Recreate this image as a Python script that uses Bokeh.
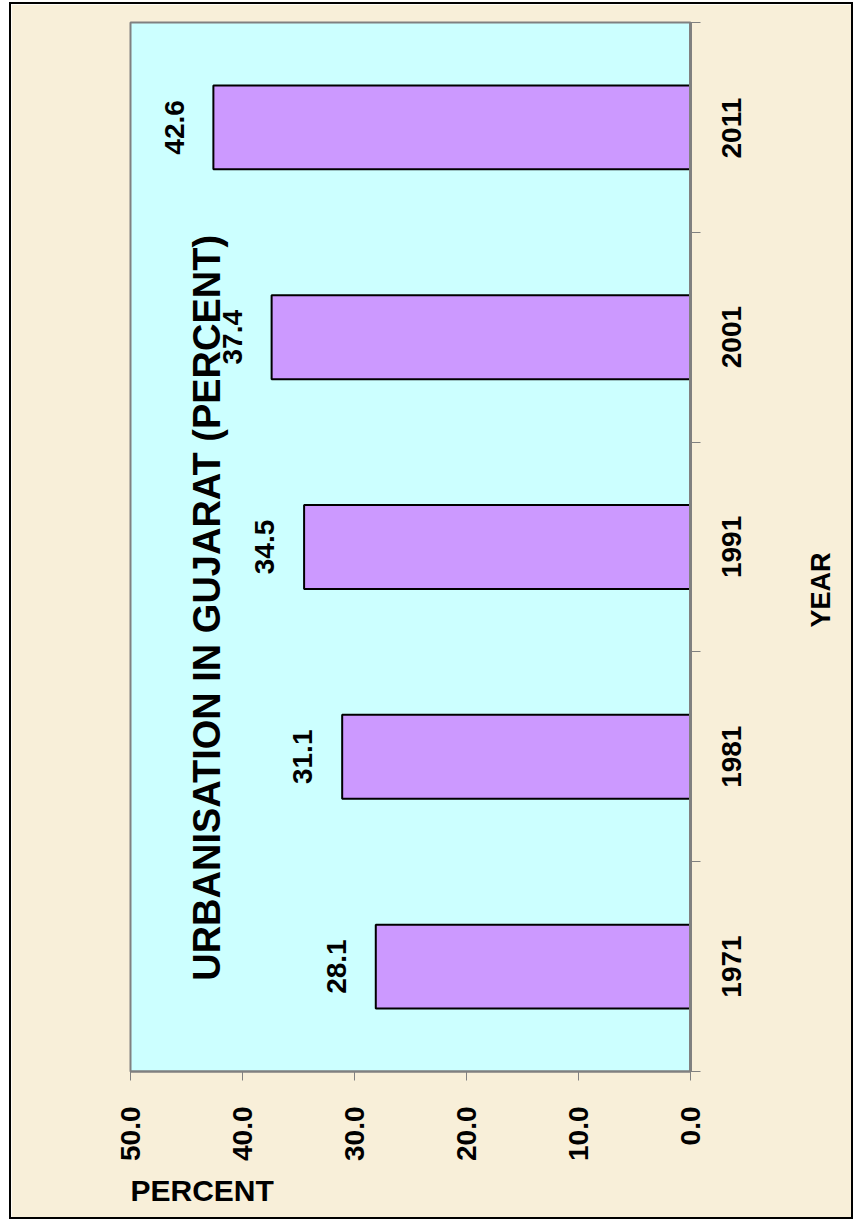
import math
from bokeh.plotting import figure
from bokeh.models import (Range1d, FixedTicker, PrintfTickFormatter, ColumnDataSource,
                          Label, Title, LinearAxis)
from bokeh.core.properties import value
from bokeh.embed import file_html
from bokeh.resources import INLINE

years = ["1971", "1981", "1991", "2001", "2011"]
values = [28.1, 31.1, 34.5, 37.4, 42.6]
value_ticks = [0, 10, 20, 30, 40, 50]
title_text = "URBANISATION IN GUJARAT (PERCENT)"
x_title = "PERCENT"
y_title = "YEAR"

idx = list(range(1, len(years) + 1))
FONT = "Liberation Sans"
# rotated right-axis labels start at their tick; shift so they are centred on the bar
label_shift = 0.148
year_title_pos = 2.616

p = figure(width=844, height=1217, output_backend="svg", toolbar_location=None,
           x_range=Range1d(50, 0), y_range=Range1d(0.5, len(years) + 0.5),
           y_axis_location="right", x_axis_location="below",
           min_border_left=119, min_border_right=165, min_border_top=18, min_border_bottom=150)
p.styles = {"border": "2px solid black", "margin-left": "9px", "margin-top": "2px"}
p.background_fill_color = "#CCFFFF"
p.border_fill_color = "#F8EFD9"
p.outline_line_color = "#808080"
p.outline_line_width = 2
p.xgrid.visible = False
p.ygrid.visible = False

src = ColumnDataSource(dict(y=idx, v=values, lab=[f"{v:.1f}" for v in values],
                            lx=[v + 3.5 for v in values]))
p.hbar(y="y", left=0, right="v", height=0.4, source=src,
       fill_color="#CC99FF", line_color="black", line_width=2)
p.text(x="lx", y="y", text="lab", source=src, angle=math.pi / 2,
       text_align="center", text_baseline="middle",
       text_font=value(FONT), text_font_style="bold", text_font_size="28px", text_color="black")

xa = p.xaxis[0]
xa.ticker = FixedTicker(ticks=value_ticks)
xa.formatter = PrintfTickFormatter(format="%.1f")
xa.major_label_orientation = math.pi / 2
xa.major_label_text_font = FONT
xa.major_label_text_font_style = "bold"
xa.major_label_text_font_size = "28px"
xa.major_label_text_color = "black"
xa.major_tick_out = 9
xa.major_tick_in = 0
xa.minor_tick_out = 0
xa.minor_tick_in = 0
xa.major_tick_line_color = "#808080"
xa.axis_line_color = "#808080"
xa.axis_line_width = 2
xa.major_label_standoff = 26

ya = p.yaxis[0]
label_ticks = [i - label_shift for i in idx]
ya.ticker = FixedTicker(ticks=label_ticks, minor_ticks=[i - 0.5 for i in idx] + [idx[-1] + 0.5])
ya.major_label_overrides = {t: y for t, y in zip(label_ticks, years)}
ya.major_label_orientation = math.pi / 2
ya.major_label_text_font = FONT
ya.major_label_text_font_style = "bold"
ya.major_label_text_font_size = "28px"
ya.major_label_text_color = "black"
ya.major_tick_out = 0
ya.major_tick_in = 0
ya.minor_tick_out = 10
ya.minor_tick_in = 0
ya.minor_tick_line_color = "#808080"
ya.axis_line_color = "#808080"
ya.axis_line_width = 3
ya.major_label_standoff = 31

# second right axis: carries the "YEAR" title as a single tick label
ya2 = LinearAxis(ticker=FixedTicker(ticks=[year_title_pos]),
                 major_label_overrides={year_title_pos: y_title},
                 major_label_orientation=math.pi / 2,
                 axis_line_color=None, major_tick_out=0, major_tick_in=0,
                 minor_tick_out=0, minor_tick_in=0,
                 major_label_text_font=FONT, major_label_text_font_style="bold",
                 major_label_text_font_size="27px", major_label_text_color="black",
                 major_label_standoff=68)
p.add_layout(ya2, "right")

p.add_layout(Title(text=x_title, align="left", offset=0, standoff=16,
                   text_font=FONT, text_font_style="bold", text_font_size="30px",
                   text_color="black"), "below")

p.add_layout(Label(x=43.15, y=2.71, text=title_text, angle=math.pi / 2,
                   text_align="center", text_baseline="middle",
                   text_font=FONT, text_font_style="bold", text_font_size="38px",
                   text_color="black"))

open("out.html", "w").write(file_html(p, INLINE))
